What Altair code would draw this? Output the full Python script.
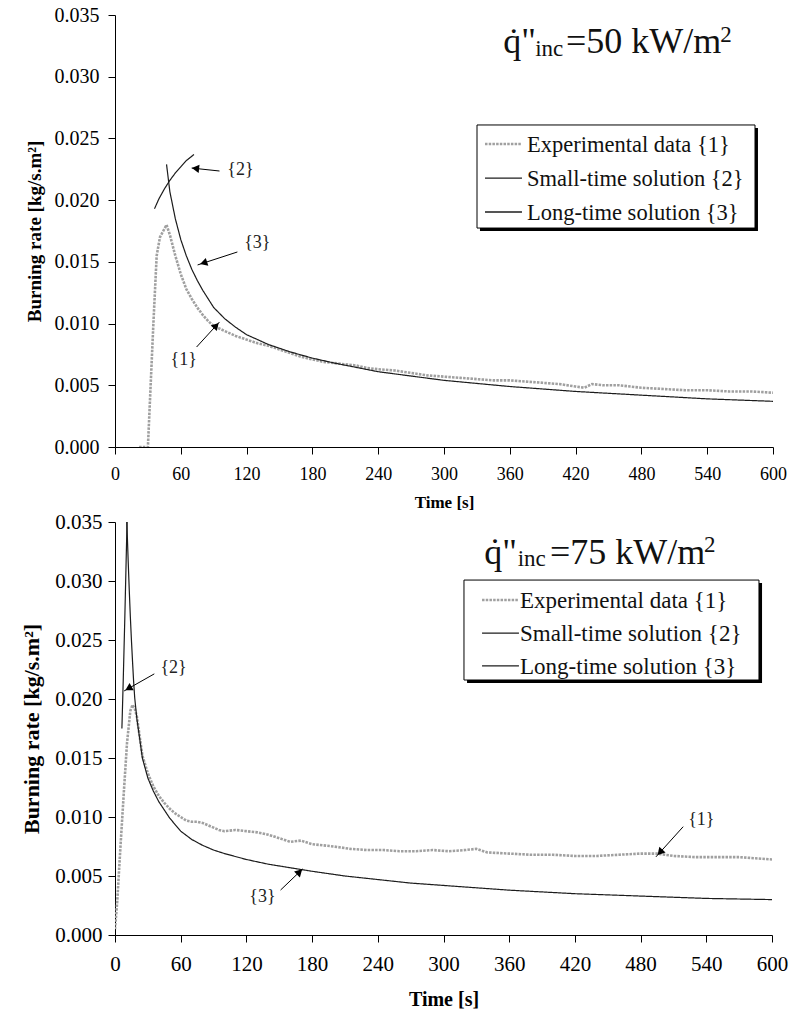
import altair as alt
import pandas as pd

SERIF = "Liberation Serif, Times New Roman, Times, serif"
SERIES = ["Experimental data {1}", "Small-time solution {2}", "Long-time solution {3}"]

# ---------------- top panel: 50 kW/m2 ----------------
top_exp_t = [22, 30, 32, 35, 38, 41, 44, 47, 50, 55, 60, 65, 70, 75, 80, 85, 90, 95, 100, 110,
             120, 130, 140, 150, 160, 170, 180, 190, 200, 210, 220, 230, 240, 255, 270, 285, 300,
             315, 330, 345, 360, 375, 390, 405, 420, 428, 435, 445, 460, 480, 500, 520, 540, 560,
             580, 600]
top_exp_v = [0.0, 0.0, 0.004, 0.010, 0.0155, 0.0170, 0.0175, 0.0180, 0.0172, 0.0155, 0.0140,
             0.0128, 0.0120, 0.0113, 0.0107, 0.0102, 0.0098, 0.0096, 0.0094, 0.0090, 0.0087,
             0.0084, 0.0082, 0.0079, 0.0076, 0.0073, 0.0071, 0.0069, 0.0068, 0.0067, 0.0066,
             0.0064, 0.0063, 0.0062, 0.0060, 0.0058, 0.0057, 0.0056, 0.0055, 0.0054, 0.0054,
             0.0053, 0.0052, 0.0051, 0.0049, 0.0048, 0.0051, 0.0050, 0.0050, 0.0048, 0.0047,
             0.0046, 0.0046, 0.0045, 0.0045, 0.0044]
top_small_t = [36, 40, 45, 50, 55, 60, 65, 72]
top_small_v = [0.0193, 0.0201, 0.0209, 0.0216, 0.0222, 0.0227, 0.0232, 0.0237]
top_long_t = [47, 50, 55, 60, 65, 70, 75, 80, 90, 100, 110, 120, 140, 160, 180, 200, 240, 300,
              360, 420, 480, 540, 600]
top_long_v = [0.0229, 0.0207, 0.0185, 0.0168, 0.0155, 0.0144, 0.0135, 0.0127, 0.0113, 0.0104,
              0.0097, 0.0091, 0.0083, 0.0077, 0.0072, 0.0068, 0.0061, 0.0054, 0.0049, 0.0045,
              0.0042, 0.0039, 0.0037]

# ---------------- bottom panel: 75 kW/m2 ----------------
bot_exp_t = [0, 2, 5, 8, 11, 14, 16, 18, 20, 25, 30, 35, 40, 45, 50, 55, 60, 65, 70, 75, 80, 85,
             90, 95, 100, 110, 120, 130, 140, 150, 160, 170, 180, 190, 200, 215, 230, 245, 260,
             275, 290, 305, 320, 330, 340, 360, 380, 400, 420, 440, 460, 480, 495, 510, 530, 550,
             570, 585, 600]
bot_exp_v = [0.0005, 0.0028, 0.0075, 0.0120, 0.0163, 0.0190, 0.0195, 0.0192, 0.0185, 0.0152,
             0.0137, 0.0126, 0.0118, 0.0112, 0.0107, 0.0103, 0.0100, 0.0097, 0.0096, 0.0096,
             0.0095, 0.0093, 0.0091, 0.0089, 0.0088, 0.0089, 0.0088, 0.0087, 0.0085, 0.0082,
             0.0079, 0.0080, 0.0077, 0.0076, 0.0075, 0.0073, 0.0072, 0.0072, 0.0071, 0.0071,
             0.0072, 0.0071, 0.0072, 0.0073, 0.0070, 0.0069, 0.0068, 0.0068, 0.0067, 0.0067,
             0.0068, 0.0069, 0.0069, 0.0067, 0.0066, 0.0066, 0.0066, 0.0065, 0.0064]
bot_small_t = [6.3, 7.5, 9.0, 10.0, 11.0]
bot_small_v = [0.0175, 0.0215, 0.0270, 0.0310, 0.0350]
bot_long_t = [10.8, 12, 13, 14, 15, 16, 17, 18, 20, 22, 25, 30, 35, 40, 50, 60, 70, 80, 90, 100,
              120, 140, 160, 180, 210, 240, 270, 300, 360, 420, 480, 540, 600]
bot_long_v = [0.0350, 0.0318, 0.0293, 0.0270, 0.0250, 0.0232, 0.0215, 0.0201, 0.0183, 0.0170,
              0.0150, 0.0133, 0.0122, 0.0113, 0.0099, 0.0088, 0.0081, 0.0076, 0.0072, 0.0069,
              0.0064, 0.0060, 0.0057, 0.0054, 0.0050, 0.0047, 0.0044, 0.0042, 0.0038, 0.0035,
              0.0033, 0.0031, 0.0030]

# ---------------- annotations (data coordinates) ----------------
top_arrow_label = ["{2}", "{3}", "{1}"]
top_arrow_tail_t = [95.3, 111.6, 74.4]
top_arrow_tail_v = [0.02236, 0.0158, 0.0081]
top_arrow_tip_t = [69.9, 75.3, 95.3]
top_arrow_tip_v = [0.02260, 0.01475, 0.01013]
top_arrow_text_t = [114.4, 129.8, 62.6]
top_arrow_text_v = [0.02244, 0.01653, 0.00705]
top_arrow_angle = [276, 252, 43]

bot_arrow_label = ["{2}", "{3}", "{1}"]
bot_arrow_tail_t = [35.9, 151.2, 518.9]
bot_arrow_tail_v = [0.02213, 0.00381, 0.00918]
bot_arrow_tip_t = [8.3, 171.4, 494.0]
bot_arrow_tip_v = [0.02068, 0.0056, 0.00662]
bot_arrow_text_t = [53.5, 134.6, 535.5]
bot_arrow_text_v = [0.02264, 0.00322, 0.00977]
bot_arrow_angle = [240, 46, 222]

# title pieces: q-dot'' , inc (subscript), =.. kW/m , 2 (superscript)
top_title_main = ["q\u0307\"", "=50 kW/m"]
top_title_main_t = [354.0, 411.2]
top_title_main_v = [0.03192, 0.03192]
top_title_small = ["inc", "2"]
top_title_small_t = [383.1, 552.0]
top_title_small_v = [0.03165, 0.03280]

bot_title_main = ["q\u0307\"", "=75 kW/m"]
bot_title_main_t = [337.3, 397.2]
bot_title_main_v = [0.03148, 0.03148]
bot_title_small = ["inc", "2"]
bot_title_small_t = [367.7, 538.0]
bot_title_small_v = [0.03130, 0.03245]

# legend boxes (data coordinates): box, shadow, symbol span, label start, row levels
top_leg_box_t = [330.1, 583.6]
top_leg_box_v = [0.02609, 0.01774]
top_leg_shadow_t = [332.8, 586.3]
top_leg_shadow_v = [0.02585, 0.01750]
top_leg_sym_t = [337.4, 371.1]
top_leg_text_t = 375.7
top_leg_row_v = [0.02455, 0.02179, 0.01904]

bot_leg_box_t = [318.7, 588.1]
bot_leg_box_v = [0.03008, 0.02161]
bot_leg_shadow_t = [321.5, 590.9]
bot_leg_shadow_v = [0.02983, 0.02136]
bot_leg_sym_t = [335.2, 368.9]
bot_leg_text_t = 369.9
bot_leg_row_v = [0.02839, 0.02559, 0.02280]

X_TICKS = list(range(0, 601, 60))
Y_TICKS = [0.0, 0.005, 0.010, 0.015, 0.020, 0.025, 0.030, 0.035]


def lines_df(exp_t, exp_v, small_t, small_v, long_t, long_v):
    rows = []
    for name, ts, vs in ((SERIES[0], exp_t, exp_v), (SERIES[1], small_t, small_v),
                         (SERIES[2], long_t, long_v)):
        for i, (t, v) in enumerate(zip(ts, vs)):
            rows.append({"series": name, "t": t, "v": v, "order": i})
    return pd.DataFrame(rows)


def panel(df, arrows, title_main, title_small, legend, width, height, st):
    xax = alt.Axis(values=X_TICKS, title="Time [s]", grid=False, domainColor="black",
                   tickColor="black", tickSize=7, labelFont=SERIF,
                   labelFontSize=st["xlab"], labelColor="black", labelPadding=st["xlabpad"],
                   titleFont=SERIF, titleFontSize=st["xtitle"], titleFontWeight="bold",
                   titleColor="black", titlePadding=st["xtitlepad"], labelFlush=False)
    yax = alt.Axis(values=Y_TICKS, format=".3f", title="Burning rate [kg/s.m\u00b2]", grid=False,
                   domainColor="black", tickColor="black", tickSize=7, labelFont=SERIF,
                   labelFontSize=st["ylab"], labelColor="black", labelPadding=st["ylabpad"],
                   titleFont=SERIF, titleFontSize=st["ytitle"], titleFontWeight="bold",
                   titleColor="black", titlePadding=st["ytitlepad"])
    xs = alt.Scale(domain=[0, 600], nice=False, zero=False)
    ys = alt.Scale(domain=[0, 0.035], nice=False)

    def X(f="t"):
        return alt.X(f + ":Q", scale=xs, axis=xax)

    def Y(f="v"):
        return alt.Y(f + ":Q", scale=ys, axis=yax)

    color = alt.Color("series:N", scale=alt.Scale(domain=SERIES,
                      range=["#a0a0a0", "#1c1c1c", "#1c1c1c"]), legend=None)
    dash = alt.StrokeDash("series:N", scale=alt.Scale(domain=SERIES,
                          range=[[2.5, 1.2], [1, 0], [1, 0]]), legend=None)

    exp_layer = alt.Chart(df[df.series == SERIES[0]]).mark_line(
        strokeWidth=2.6, clip=True).encode(x=X(), y=Y(), color=color, strokeDash=dash,
                                           order="order:Q")
    model_layer = alt.Chart(df[df.series != SERIES[0]]).mark_line(
        strokeWidth=1.2, clip=True).encode(x=X(), y=Y(), color=color, strokeDash=dash,
                                           order="order:Q")

    # arrows with labels
    lab, tail_t, tail_v, tip_t, tip_v, txt_t, txt_v, ang = arrows
    head_t = [p + 0.18 * (q - p) for p, q in zip(tip_t, tail_t)]
    head_v = [p + 0.18 * (q - p) for p, q in zip(tip_v, tail_v)]
    adf = pd.DataFrame({"label": lab, "t": tail_t, "v": tail_v, "t2": tip_t, "v2": tip_v,
                        "tt": txt_t, "tv": txt_v, "ht": head_t, "hv": head_v, "angle": ang})
    shaft = alt.Chart(adf).mark_rule(color="black", strokeWidth=1).encode(
        x=X(), y=Y(), x2="t2:Q", y2="v2:Q")
    head = alt.Chart(adf).mark_point(shape="triangle", filled=True, color="black",
                                     opacity=1, size=70).encode(
        x=X("ht"), y=Y("hv"), angle=alt.Angle("angle:Q", scale=None))
    atext = alt.Chart(adf).mark_text(font=SERIF, fontSize=st["ann"], color="#222222").encode(
        x=X("tt"), y=Y("tv"), text="label:N")

    # heading  q''_inc = .. kW/m^2
    mdf = pd.DataFrame({"txt": title_main[0], "t": title_main[1], "v": title_main[2]})
    sdf = pd.DataFrame({"txt": title_small[0], "t": title_small[1], "v": title_small[2]})
    tmain = alt.Chart(mdf).mark_text(font=SERIF, fontSize=st["tmain"], align="left",
                                     baseline="alphabetic", color="#111111").encode(
        x=X(), y=Y(), text="txt:N")
    tsmall = alt.Chart(sdf).mark_text(font=SERIF, fontSize=st["tsmall"], align="left",
                                      baseline="alphabetic", color="#111111").encode(
        x=X(), y=Y(), text="txt:N")

    # legend box with shadow
    box_t, box_v, sh_t, sh_v, sym_t, text_t, row_v = legend
    shadow = alt.Chart(pd.DataFrame({"t": [sh_t[0]], "t2": [sh_t[1]], "v": [sh_v[0]],
                                     "v2": [sh_v[1]]})).mark_rect(color="black").encode(
        x=X(), x2="t2:Q", y=Y(), y2="v2:Q")
    box = alt.Chart(pd.DataFrame({"t": [box_t[0]], "t2": [box_t[1]], "v": [box_v[0]],
                                  "v2": [box_v[1]]})).mark_rect(
        fill="white", stroke="black", strokeWidth=1).encode(
        x=X(), x2="t2:Q", y=Y(), y2="v2:Q")
    ldf = pd.DataFrame({"series": SERIES, "t": [sym_t[0]] * 3, "t2": [sym_t[1]] * 3,
                        "tt": [text_t] * 3, "v": row_v})
    sym_exp = alt.Chart(ldf.iloc[:1]).mark_rule(strokeWidth=2.4).encode(
        x=X(), x2="t2:Q", y=Y(), color=color, strokeDash=dash)
    sym_mod = alt.Chart(ldf.iloc[1:]).mark_rule(strokeWidth=1.3).encode(
        x=X(), x2="t2:Q", y=Y(), color=color, strokeDash=dash)
    ltext = alt.Chart(ldf).mark_text(font=SERIF, fontSize=st["legfont"], align="left",
                                     baseline="middle", color="#111111", dy=1).encode(
        x=X("tt"), y=Y(), text="series:N")

    return alt.layer(exp_layer, model_layer, shaft, head, atext, tmain, tsmall, shadow, box,
                     sym_exp, sym_mod, ltext).properties(width=width, height=height)


top_style = dict(xlab=18, xlabpad=11, xtitle=17, xtitlepad=11, ylab=20, ylabpad=9, ytitle=19,
                 ytitlepad=10, ann=18, tmain=36, tsmall=23, legfont=22.5)
bot_style = dict(xlab=21, xlabpad=11, xtitle=20, xtitlepad=15, ylab=21, ylabpad=6, ytitle=22,
                 ytitlepad=11, ann=18, tmain=36, tsmall=23, legfont=23)

top = panel(lines_df(top_exp_t, top_exp_v, top_small_t, top_small_v, top_long_t, top_long_v),
            (top_arrow_label, top_arrow_tail_t, top_arrow_tail_v, top_arrow_tip_t,
             top_arrow_tip_v, top_arrow_text_t, top_arrow_text_v, top_arrow_angle),
            (top_title_main, top_title_main_t, top_title_main_v),
            (top_title_small, top_title_small_t, top_title_small_v),
            (top_leg_box_t, top_leg_box_v, top_leg_shadow_t, top_leg_shadow_v, top_leg_sym_t,
             top_leg_text_t, top_leg_row_v), 658, 432, top_style)
bottom = panel(lines_df(bot_exp_t, bot_exp_v, bot_small_t, bot_small_v, bot_long_t, bot_long_v),
               (bot_arrow_label, bot_arrow_tail_t, bot_arrow_tail_v, bot_arrow_tip_t,
                bot_arrow_tip_v, bot_arrow_text_t, bot_arrow_text_v, bot_arrow_angle),
               (bot_title_main, bot_title_main_t, bot_title_main_v),
               (bot_title_small, bot_title_small_t, bot_title_small_v),
               (bot_leg_box_t, bot_leg_box_v, bot_leg_shadow_t, bot_leg_shadow_v,
                bot_leg_sym_t, bot_leg_text_t, bot_leg_row_v), 657, 413, bot_style)

chart = alt.vconcat(top, bottom, spacing=75, bounds="flush").resolve_scale(
    color="independent", strokeDash="independent").properties(
    padding={"left": 20, "top": 5, "right": 5, "bottom": 5}, background="white"
).configure_view(stroke=None)

chart.save("out.html", embed_options={"renderer": "svg", "actions": False})
